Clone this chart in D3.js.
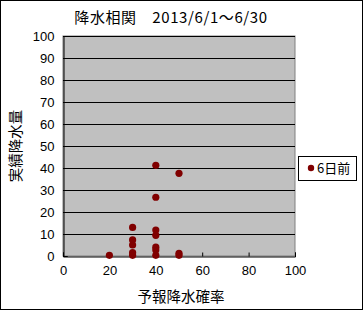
<!DOCTYPE html>
<html><head><meta charset="utf-8">
<script src="https://cdn.jsdelivr.net/npm/d3@7"></script>
<style>body{margin:0;background:#fff}svg{display:block}text{font-family:"Noto Sans CJK JP","DejaVu Sans",sans-serif}</style>
</head><body>
<script>
const xValues = [40, 50, 40, 30, 40, 40, 30, 30, 40, 40, 30, 30, 40, 20, 50, 50];
const yValues = [41.2, 37.6, 26.7, 13, 11.8, 9.4, 7.3, 5, 4, 2.7, 1.5, 0.3, 0.3, 0.3, 1.2, 0.3];
const xTicks = [0, 20, 40, 60, 80, 100];
const yTicks = [0, 10, 20, 30, 40, 50, 60, 70, 80, 90, 100];
const seriesName = "6日前";
const titleText = "降水相関　2013/6/1～6/30";
const xTitle = "予報降水確率";
const yTitle = "実績降水量";

const W = 363, H = 310;
const svg = d3.select("body").append("svg").attr("width", W).attr("height", H);
svg.append("rect").attr("x", 0.5).attr("y", 0.5).attr("width", W - 1).attr("height", H - 1)
  .attr("fill", "#fff").attr("stroke", "#000");

const L = 63, R = 295, T = 36, B = 256;
const x = d3.scaleLinear().domain([0, 100]).range([L, R]);
const y = d3.scaleLinear().domain([0, 100]).range([B, T]);

svg.append("rect").attr("x", L).attr("y", T).attr("width", R - L).attr("height", B - T)
  .attr("fill", "#c0c0c0").attr("stroke", "#808080");

svg.append("g").selectAll("line").data(yTicks.filter(d => d > 0)).join("line")
  .attr("x1", L).attr("x2", R).attr("y1", d => Math.round(y(d)) + 0.5).attr("y2", d => Math.round(y(d)) + 0.5)
  .attr("stroke", "#000");

const yAxis = svg.append("g").attr("transform", `translate(${L + 0.5},0)`)
  .call(d3.axisLeft(y).tickValues(yTicks).tickSize(-4).tickPadding(9));
const xAxis = svg.append("g").attr("transform", `translate(0,${B + 0.5})`)
  .call(d3.axisBottom(x).tickValues(xTicks).tickSize(-4).tickPadding(9));
[xAxis, yAxis].forEach(a => {
  a.select(".domain").attr("stroke", "#000");
  a.selectAll(".tick line").attr("stroke", "#000");
  a.selectAll("text").attr("fill", "#000").style("font-size", "13px")
    .style("font-family", "'Liberation Sans', Arial, sans-serif");
});

svg.append("g").selectAll("circle").data(xValues.map((v, i) => [v, yValues[i]])).join("circle")
  .attr("cx", d => x(d[0])).attr("cy", d => y(d[1])).attr("r", 3.6).attr("fill", "#800000");

svg.append("text").attr("x", 171).attr("y", 23).attr("text-anchor", "middle")
  .style("font-size", "15px").style("letter-spacing", "0.6px").text(titleText);
svg.append("text").attr("x", 181).attr("y", 302).attr("text-anchor", "middle")
  .style("font-size", "14.5px").text(xTitle);
svg.append("text").attr("transform", "translate(21,146) rotate(-90)").attr("text-anchor", "middle")
  .style("font-size", "14.5px").text(yTitle);

const lg = svg.append("g");
lg.append("rect").attr("x", 298.5).attr("y", 156.5).attr("width", 58).attr("height", 24)
  .attr("fill", "#fff").attr("stroke", "#000");
lg.append("circle").attr("cx", 311).attr("cy", 168).attr("r", 3.2).attr("fill", "#800000");
lg.append("text").attr("x", 317).attr("y", 173).style("font-size", "13px").text(seriesName);
</script>
</body></html>
